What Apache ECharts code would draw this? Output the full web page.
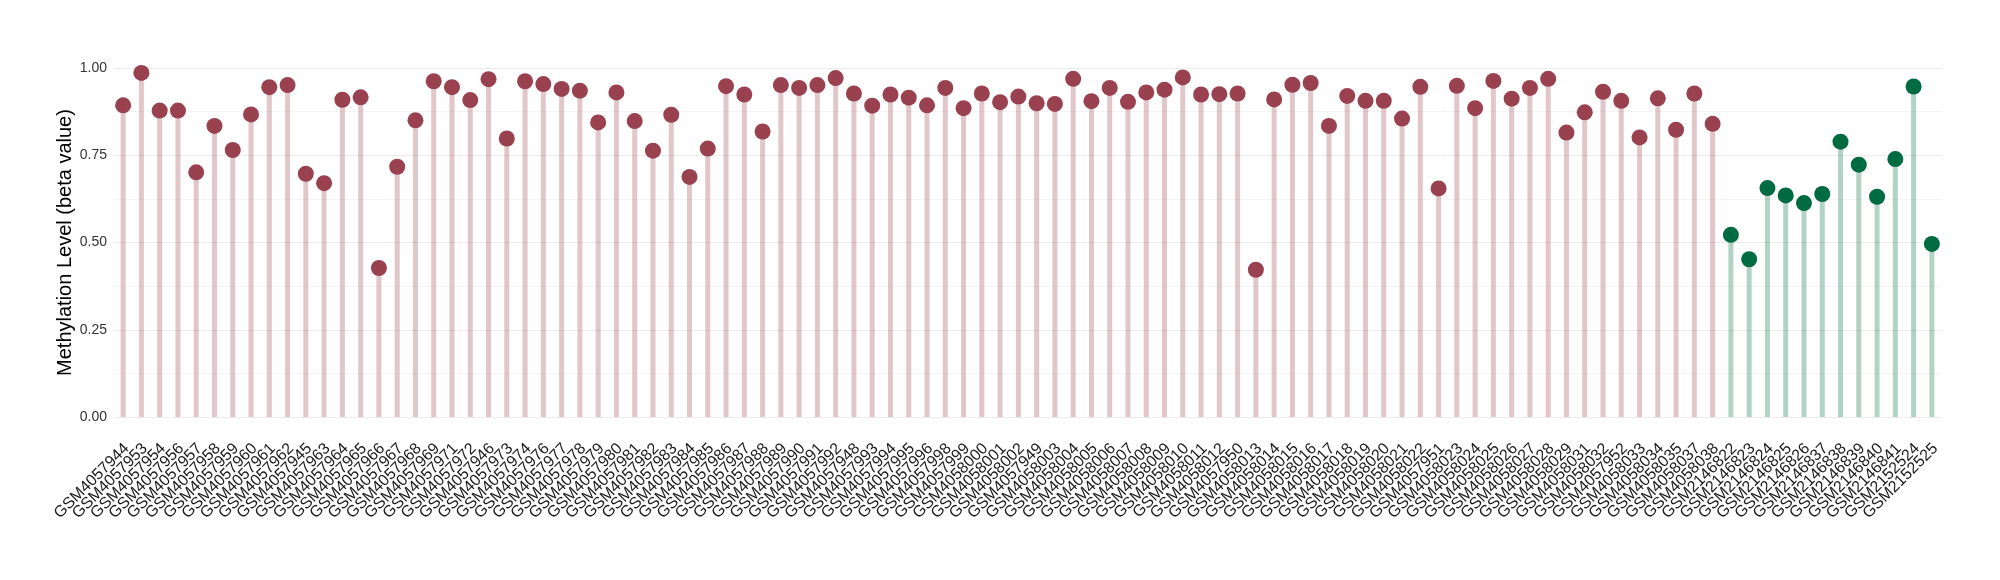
<!DOCTYPE html>
<html>
<head>
<meta charset="utf-8">
<script src="https://cdn.jsdelivr.net/npm/echarts@6/dist/echarts.min.js"></script>
<style>
  html, body { margin: 0; padding: 0; background: #fff; }
  #chart { width: 2000px; height: 580px; }
</style>
</head>
<body>
<div id="chart"></div>
<script>
// sample ids, in plot order
const samples = [
  'GSM4057944', 'GSM4057953', 'GSM4057954', 'GSM4057956', 'GSM4057957', 'GSM4057958', 'GSM4057959', 'GSM4057960', 'GSM4057961', 'GSM4057962',
  'GSM4057945', 'GSM4057963', 'GSM4057964', 'GSM4057965', 'GSM4057966', 'GSM4057967', 'GSM4057968', 'GSM4057969', 'GSM4057971', 'GSM4057972',
  'GSM4057946', 'GSM4057973', 'GSM4057974', 'GSM4057976', 'GSM4057977', 'GSM4057978', 'GSM4057979', 'GSM4057980', 'GSM4057981', 'GSM4057982',
  'GSM4057983', 'GSM4057984', 'GSM4057985', 'GSM4057986', 'GSM4057987', 'GSM4057988', 'GSM4057989', 'GSM4057990', 'GSM4057991', 'GSM4057992',
  'GSM4057948', 'GSM4057993', 'GSM4057994', 'GSM4057995', 'GSM4057996', 'GSM4057998', 'GSM4057999', 'GSM4058000', 'GSM4058001', 'GSM4058002',
  'GSM4057949', 'GSM4058003', 'GSM4058004', 'GSM4058005', 'GSM4058006', 'GSM4058007', 'GSM4058008', 'GSM4058009', 'GSM4058010', 'GSM4058011',
  'GSM4058012', 'GSM4057950', 'GSM4058013', 'GSM4058014', 'GSM4058015', 'GSM4058016', 'GSM4058017', 'GSM4058018', 'GSM4058019', 'GSM4058020',
  'GSM4058021', 'GSM4058022', 'GSM4057951', 'GSM4058023', 'GSM4058024', 'GSM4058025', 'GSM4058026', 'GSM4058027', 'GSM4058028', 'GSM4058029',
  'GSM4058031', 'GSM4058032', 'GSM4057952', 'GSM4058033', 'GSM4058034', 'GSM4058035', 'GSM4058037', 'GSM4058038',
  'GSM2146822', 'GSM2146823', 'GSM2146824', 'GSM2146825', 'GSM2146826', 'GSM2146837', 'GSM2146838', 'GSM2146839', 'GSM2146840', 'GSM2146841',
  'GSM2152524', 'GSM2152525'
]

// beta values, first group (red)
const groupA = [
  0.893, 0.986, 0.878, 0.878, 0.701, 0.834, 0.765, 0.867, 0.945, 0.951,
  0.697, 0.670, 0.909, 0.916, 0.427, 0.717, 0.850, 0.962, 0.945, 0.908,
  0.968, 0.798, 0.962, 0.954, 0.940, 0.935, 0.844, 0.930, 0.848, 0.763,
  0.866, 0.688, 0.769, 0.948, 0.924, 0.818, 0.951, 0.943, 0.951, 0.971,
  0.927, 0.892, 0.924, 0.915, 0.893, 0.943, 0.885, 0.927, 0.902, 0.918,
  0.899, 0.897, 0.969, 0.905, 0.943, 0.903, 0.930, 0.938, 0.973, 0.924,
  0.925, 0.927, 0.422, 0.910, 0.952, 0.957, 0.834, 0.920, 0.906, 0.906,
  0.855, 0.946, 0.655, 0.949, 0.885, 0.963, 0.912, 0.943, 0.969, 0.815,
  0.873, 0.932, 0.906, 0.801, 0.913, 0.823, 0.927, 0.840
]

// beta values, second group (green)
const groupB = [
  0.522, 0.452, 0.656, 0.635, 0.613, 0.639, 0.789, 0.723, 0.631, 0.739,
  0.947, 0.496
]

const yTicks = [0, 0.25, 0.5, 0.75, 1]

const dotColors = ['#9a4150', '#006a40']
const stemColors = ['rgba(154,65,80,0.3)', 'rgba(0,106,64,0.3)']

const values = groupA.concat(groupB)
const groupOf = i => (i < groupA.length ? 0 : 1)

const chart = echarts.init(document.getElementById('chart'))

const option = {
  animation: false,
  backgroundColor: '#fff',
  textStyle: { fontFamily: 'Liberation Sans, Arial, sans-serif' },
  grid: { left: 114, right: 59, top: 68, bottom: 163 },
  xAxis: {
    type: 'category',
    data: samples,
    boundaryGap: true,
    axisLine: { show: false },
    axisTick: { show: false },
    splitLine: { show: false },
    axisLabel: {
      interval: 0,
      rotate: 45,
      margin: 10,
      fontSize: 16,
      color: '#1a1a1a',
      verticalAlign: 'top',
      padding: [8, 11, 0, 0]
    }
  },
  yAxis: {
    type: 'value',
    min: yTicks[0],
    max: yTicks[yTicks.length - 1],
    interval: 0.25,
    name: 'Methylation Level (beta value)',
    nameLocation: 'middle',
    nameRotate: 90,
    nameGap: 39,
    nameMoveOverlap: false,
    nameTextStyle: { fontSize: 20, color: '#000' },
    axisLine: { show: false },
    axisTick: { show: false },
    axisLabel: {
      margin: 7,
      fontSize: 14,
      color: '#333',
      formatter: v => v.toFixed(2)
    },
    splitLine: { lineStyle: { color: '#ebebeb', width: 1 } },
    minorTick: { show: false, splitNumber: 2 },
    minorSplitLine: { show: true, lineStyle: { color: '#f4f4f4', width: 1 } }
  },
  series: [
    {
      name: 'stem',
      type: 'bar',
      barWidth: 5,
      data: values,
      itemStyle: { color: p => stemColors[groupOf(p.dataIndex)] },
      z: 2
    },
    {
      name: 'dot',
      type: 'scatter',
      symbol: 'circle',
      symbolSize: 16,
      clip: false,
      data: values,
      itemStyle: { color: p => dotColors[groupOf(p.dataIndex)], opacity: 1 },
      z: 3
    }
  ]
}

chart.setOption(option)
window.addEventListener('resize', () => chart.resize())
</script>
</body>
</html>
